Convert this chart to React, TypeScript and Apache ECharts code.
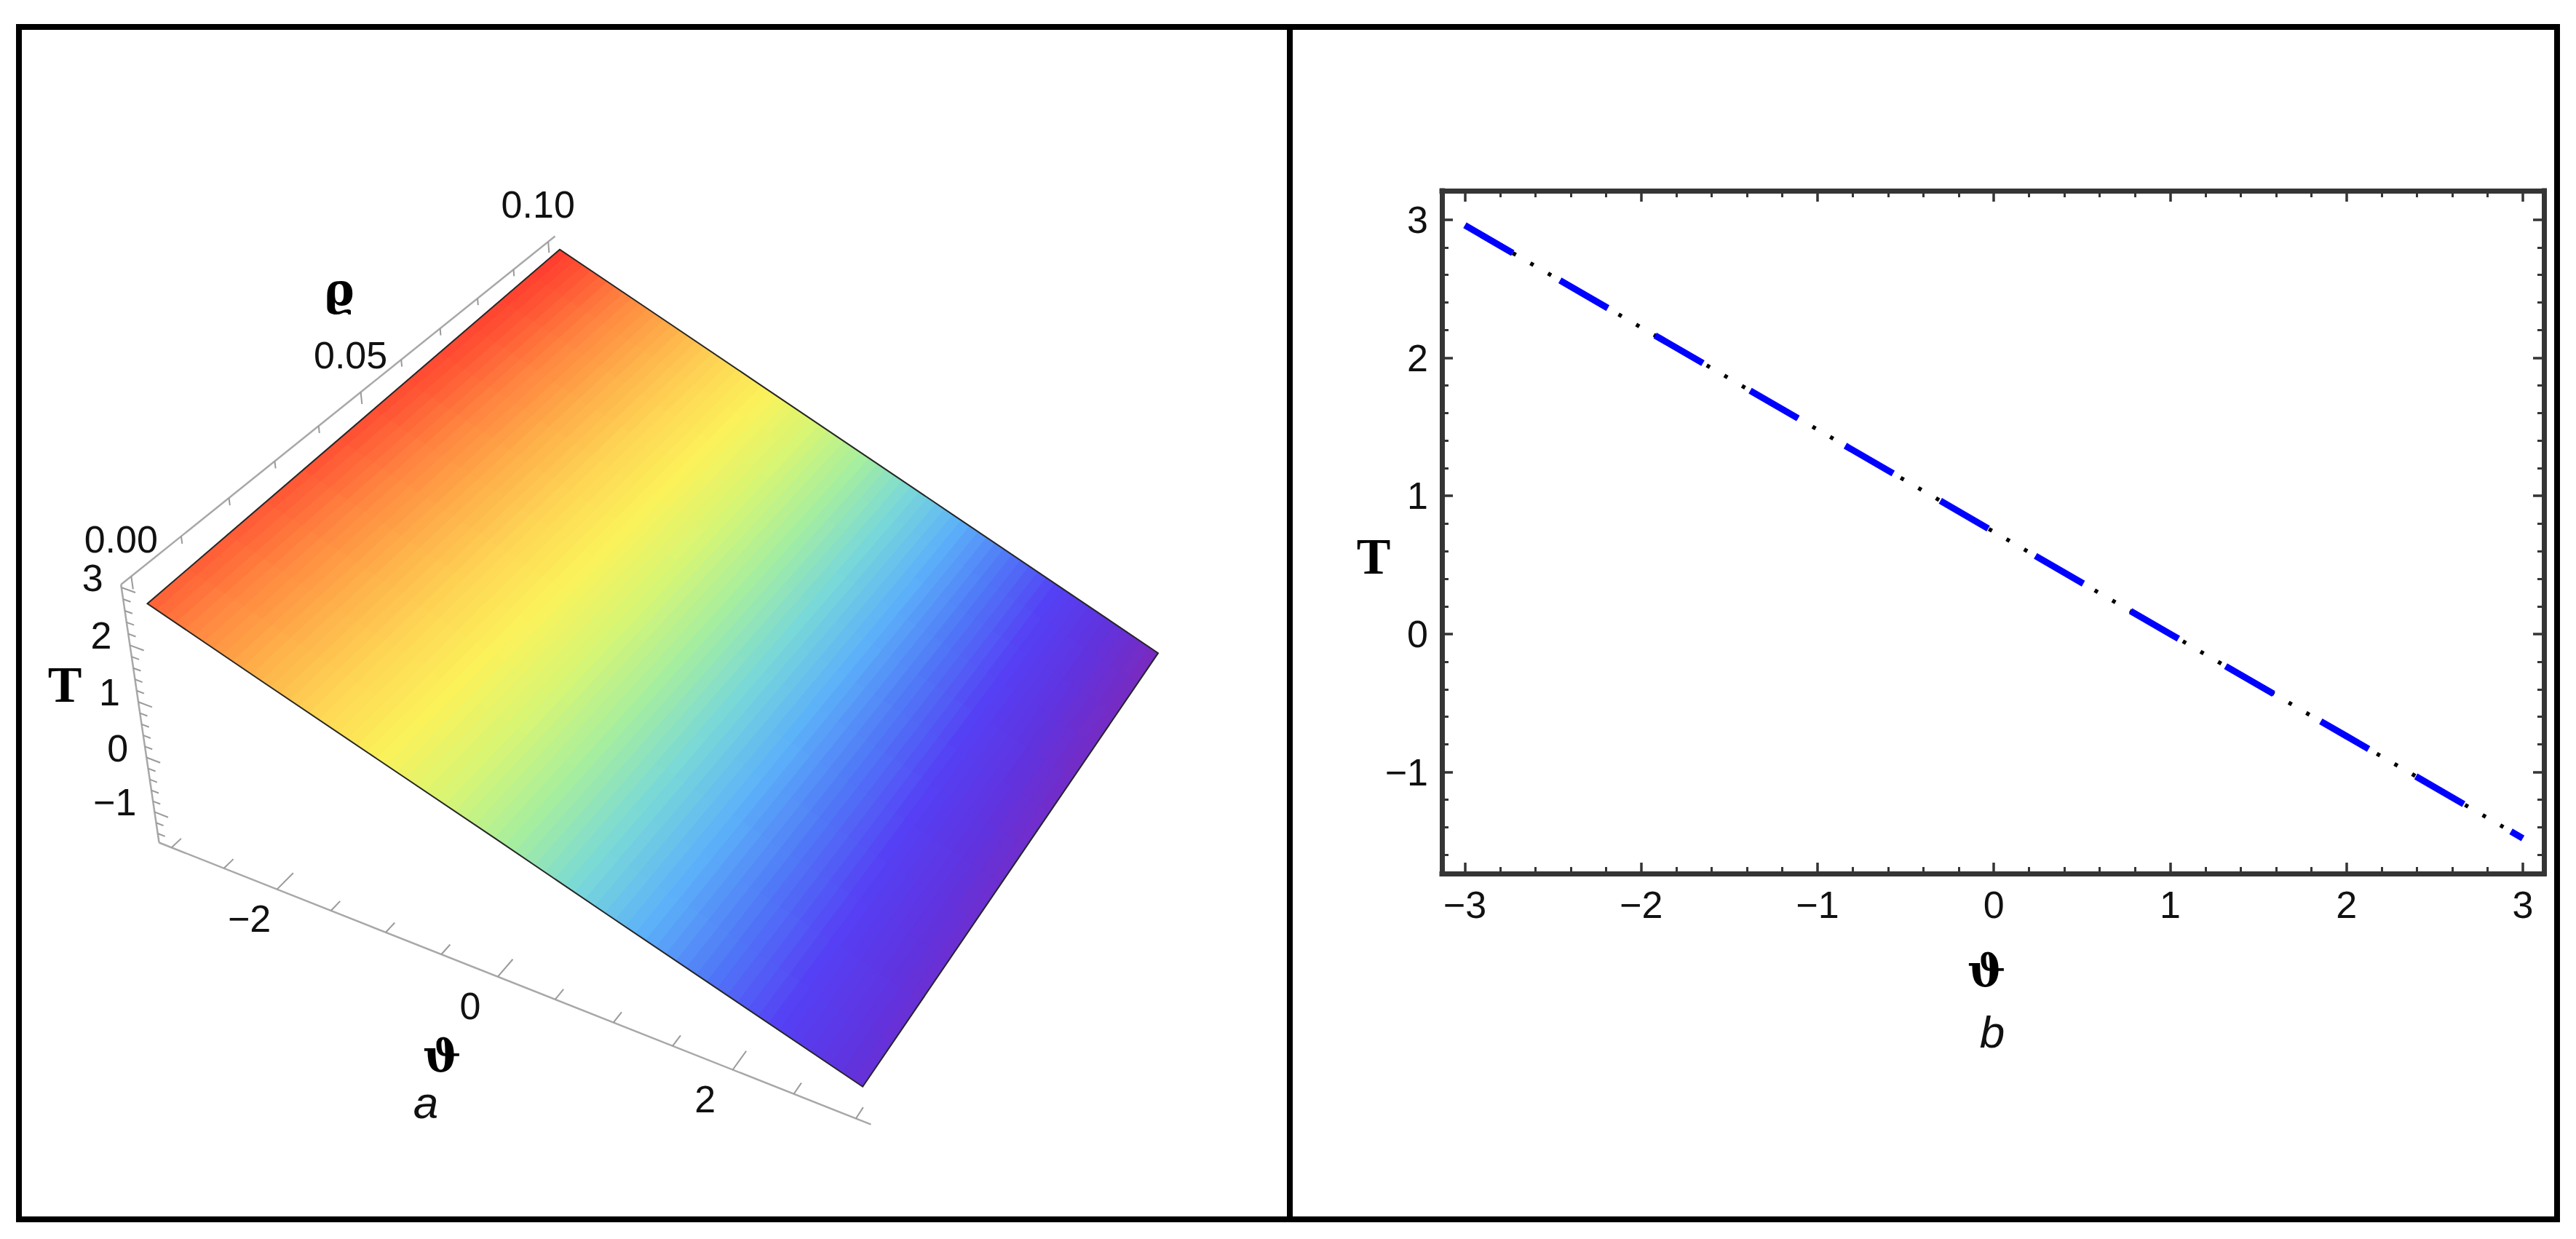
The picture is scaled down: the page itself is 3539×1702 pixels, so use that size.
import React, { useEffect, useRef } from "react";
import * as echarts from "echarts";

const W = 3539;
const H = 1702;

// ---------------- Panel b (2-D line) ----------------
const thetaB = [-3, -2, -1, 0, 1, 2, 3];
const tempB = [2.96, 2.22, 1.48, 0.74, 0.0, -0.74, -1.48];
const xMajorB = [-3, -2, -1, 0, 1, 2, 3];
const yMajorB = [-1, 0, 1, 2, 3];
const XMIN_B = -3.13;
const XMAX_B = 3.12;
const YMIN_B = -1.735;
const YMAX_B = 3.21;

// ---------------- Panel a (3-D surface) ----------------
const thetaA = [-3, -2, -1, 0, 1, 2, 3];
const rhoA = [0, 0.05, 0.1];
const tempA_rho000 = [2.66, 2.01, 1.37, 0.73, 0.08, -0.56, -1.2];
const tempA_rho005 = [2.81, 2.12, 1.43, 0.74, 0.04, -0.65, -1.34];
const tempA_rho010 = [2.96, 2.22, 1.48, 0.74, 0.0, -0.74, -1.48];
const tempGridA = [tempA_rho000, tempA_rho005, tempA_rho010];
const thetaLabelsA = [-2, 0, 2];
const rhoLabelsA = [0, 0.05, 0.1];
const tempLabelsA = [-1, 0, 1, 2, 3];

// 3-D box extents (plot range incl. padding)
const BOX_TH = [-3.12, 3.12];
const BOX_RHO = [-0.002, 0.102];
const BOX_T = [-1.57, 3.05];

// camera calibration: [theta, rho, T, screenX, screenY]
const CAL: number[][] = [
  [BOX_TH[0], BOX_RHO[0], BOX_T[1], 164, 803],
  [BOX_TH[0], BOX_RHO[0], BOX_T[0], 218, 1158],
  [BOX_TH[0], BOX_RHO[1], BOX_T[1], 762, 324],
  [BOX_TH[1], BOX_RHO[0], BOX_T[0], 1194, 1540],
  [BOX_TH[0], 0.05, BOX_T[1], 499, 535],
  [0, BOX_RHO[0], BOX_T[0], 685, 1341],
  [thetaA[0], rhoA[0], tempA_rho000[0], 204, 831],
  [thetaA[0], rhoA[2], tempA_rho010[0], 767, 345],
  [thetaA[6], rhoA[2], tempA_rho010[6], 1592, 897],
  [thetaA[6], rhoA[0], tempA_rho000[6], 1186, 1498],
];

const RAINBOW: [number, string][] = [
  [0.0, "#7a2abf"],
  [0.08, "#6133de"],
  [0.16, "#5540f5"],
  [0.24, "#5077f7"],
  [0.32, "#5cb1f9"],
  [0.4, "#79d8d8"],
  [0.48, "#a6ee9f"],
  [0.56, "#d7f574"],
  [0.64, "#fbf25a"],
  [0.72, "#fed655"],
  [0.8, "#feb04a"],
  [0.88, "#ff8540"],
  [0.95, "#ff5635"],
  [1.0, "#ff3a2e"],
];

const FRAME = "#353535";
const AX3D = "#a8a8a8";
const FONT_SANS = '"Liberation Sans", Arial, Helvetica, sans-serif';
const FONT_NARROW = '"Liberation Sans Narrow", "Arial Narrow", "Liberation Sans", Arial, sans-serif';
const FONT_SERIF = '"Liberation Serif", "Times New Roman", "DejaVu Serif", serif';
const FONT_GREEK = '"DejaVu Serif", "Liberation Serif", serif';

// ---------------- helpers ----------------
const fmtMinus = (v: number) => (v < 0 ? "\u2212" + String(Math.abs(v)) : String(v));

function minorTicks(lo: number, hi: number, step: number, majors: number[]) {
  const out: number[] = [];
  const n0 = Math.ceil(lo / step - 1e-9);
  const n1 = Math.floor(hi / step + 1e-9);
  for (let n = n0; n <= n1; n++) {
    const v = Math.round(n * step * 1e6) / 1e6;
    if (!majors.some((m) => Math.abs(m - v) < 1e-9)) out.push(v);
  }
  return out;
}

function solveLinear(A: number[][], b: number[]): number[] {
  const n = b.length;
  const M = A.map((row, i) => [...row, b[i]]);
  for (let c = 0; c < n; c++) {
    let piv = c;
    for (let r = c + 1; r < n; r++) if (Math.abs(M[r][c]) > Math.abs(M[piv][c])) piv = r;
    const tmp = M[c];
    M[c] = M[piv];
    M[piv] = tmp;
    for (let r = 0; r < n; r++) {
      if (r === c) continue;
      const f = M[r][c] / M[c][c];
      for (let k = c; k <= n; k++) M[r][k] -= f * M[c][k];
    }
  }
  return M.map((row, i) => row[n] / row[i]);
}

const U0 = 880;
const V0 = 930;
const SC = 600;
const norm3 = (th: number, rh: number, T: number) => [th / 3.12, (rh - 0.05) / 0.052, (T - 0.74) / 2.31];

function fitCamera(): number[] {
  const n = 11;
  const M = Array.from({ length: n }, () => new Array(n).fill(0));
  const R = new Array(n).fill(0);
  const add = (row: number[], rhs: number) => {
    for (let i = 0; i < n; i++) {
      for (let j = 0; j < n; j++) M[i][j] += row[i] * row[j];
      R[i] += row[i] * rhs;
    }
  };
  for (const [th, rh, T, u, v] of CAL) {
    const [X, Y, Z] = norm3(th, rh, T);
    const uu = (u - U0) / SC;
    const vv = (v - V0) / SC;
    add([X, Y, Z, 1, 0, 0, 0, 0, -uu * X, -uu * Y, -uu * Z], uu);
    add([0, 0, 0, 0, X, Y, Z, 1, -vv * X, -vv * Y, -vv * Z], vv);
  }
  return solveLinear(M, R);
}

const CAM = fitCamera();

function project(th: number, rh: number, T: number): number[] {
  const [X, Y, Z] = norm3(th, rh, T);
  const p = CAM;
  const w = p[8] * X + p[9] * Y + p[10] * Z + 1;
  const u = (p[0] * X + p[1] * Y + p[2] * Z + p[3]) / w;
  const v = (p[4] * X + p[5] * Y + p[6] * Z + p[7]) / w;
  return [u * SC + U0, v * SC + V0];
}

function hexToRgb(h: string) {
  const n = parseInt(h.slice(1), 16);
  return [(n >> 16) & 255, (n >> 8) & 255, n & 255];
}

const allT = tempGridA.flat();
const TMIN = Math.min(...allT);
const TMAX = Math.max(...allT);

function cmap(T: number): string {
  let t = (T - TMIN) / (TMAX - TMIN);
  t = Math.max(0, Math.min(1, t));
  for (let k = 1; k < RAINBOW.length; k++) {
    const [t1, c1] = RAINBOW[k];
    const [t0, c0] = RAINBOW[k - 1];
    if (t <= t1) {
      const f = (t - t0) / (t1 - t0);
      const a = hexToRgb(c0);
      const b = hexToRgb(c1);
      const c = a.map((x, i) => Math.round(x + (b[i] - x) * f));
      return `rgb(${c[0]},${c[1]},${c[2]})`;
    }
  }
  return RAINBOW[RAINBOW.length - 1][1];
}

function line3(a: number[], b: number[], color: string, width: number) {
  return {
    type: "line",
    silent: true,
    shape: { x1: a[0], y1: a[1], x2: b[0], y2: b[1] },
    style: { stroke: color, lineWidth: width },
  };
}

function text(x: number, y: number, s: string, opts: any) {
  return {
    type: "text",
    x,
    y,
    silent: true,
    style: {
      text: s,
      fill: "#111",
      align: "center",
      verticalAlign: "middle",
      ...opts,
    },
  };
}

function panelAGraphics(): any[] {
  const els: any[] = [];
  const [t0, t1] = BOX_TH;
  const [r0, r1] = BOX_RHO;
  const [z0, z1] = BOX_T;
  // axis lines
  els.push(line3(project(t0, r0, z1), project(t0, r0, z0), AX3D, 2.5));
  els.push(line3(project(t0, r0, z1), project(t0, r1, z1), AX3D, 2.5));
  els.push(line3(project(t0, r0, z0), project(t1, r0, z0), AX3D, 2.5));
  // T ticks
  for (let k = -7; k <= 15; k++) {
    const T = Math.round(k * 0.2 * 1e6) / 1e6;
    if (T < z0 || T > z1) continue;
    const major = k % 5 === 0;
    const len = major ? 0.13 : 0.07;
    els.push(line3(project(t0, r0, T), project(t0 + len, r0, T), "#9a9a9a", 2));
  }
  // rho ticks
  for (let k = 0; k <= 10; k++) {
    const r = k * 0.01;
    const major = k % 5 === 0;
    const len = major ? 0.22 : 0.13;
    els.push(line3(project(t0, r, z1), project(t0, r, z1 - len), "#9a9a9a", 2));
  }
  // theta ticks
  for (let k = -6; k <= 6; k++) {
    const th = k * 0.5;
    const major = k % 4 === 0;
    const len = major ? 0.0035 : 0.002;
    els.push(line3(project(th, r0, z0), project(th, r0 + len, z0), "#9a9a9a", 2));
  }
  const lab = { fontSize: 52, fontFamily: FONT_SANS, lineHeight: 40 };
  // tick labels
  for (const T of tempLabelsA) {
    const p = project(t0, r0, T);
    els.push(text(p[0] - 25, p[1] - 13, fmtMinus(T), { ...lab, align: "right" }));
  }
  for (const r of rhoLabelsA) {
    const p = project(t0, r, z1);
    els.push(text(p[0] - 14, p[1] - 51, r.toFixed(2), lab));
  }
  for (const th of thetaLabelsA) {
    const p = project(th, r0, z0);
    els.push(text(p[0] - 38, p[1] + 40, fmtMinus(th), lab));
  }
  // axis names
  els.push(text(89, 940, "T", { fontSize: 70, fontWeight: "bold", fontFamily: FONT_SERIF, fill: "#000" }));
  els.push(text(466, 397, "\u03F1", { fontSize: 62, fontWeight: "bold", fontFamily: FONT_GREEK, fill: "#000" }));
  els.push(text(607, 1450, "\u03D1", { fontSize: 62, fontWeight: "bold", fontFamily: FONT_GREEK, fill: "#000" }));
  els.push(text(585, 1514, "a", { fontSize: 62, fontStyle: "italic", fontFamily: FONT_SANS, fill: "#111" }));
  return els;
}

function mkAxis(dim: "x" | "y", position: string, opts: { line: boolean; ticks: number[]; len: number; w: number; labels?: boolean }) {
  return {
    type: "value",
    gridIndex: 0,
    position,
    min: dim === "x" ? XMIN_B : YMIN_B,
    max: dim === "x" ? XMAX_B : YMAX_B,
    axisLine: { show: opts.line, onZero: false, lineStyle: { color: FRAME, width: 7, cap: "square" } },
    axisTick: {
      show: true,
      inside: true,
      length: opts.len,
      customValues: opts.ticks,
      lineStyle: { color: FRAME, width: opts.w },
    },
    axisLabel: opts.labels
      ? {
          show: true,
          customValues: opts.ticks,
          formatter: (v: number) => fmtMinus(v),
          margin: dim === "x" ? 17 : 19,
          fontSize: 52,
          fontFamily: FONT_NARROW,
          color: "#111",
        }
      : { show: false },
    splitLine: { show: false },
    minorTick: { show: false },
    minorSplitLine: { show: false },
    z: 5,
  };
}

function buildOption(): any {
  const xMinorB = minorTicks(XMIN_B, XMAX_B, 0.2, xMajorB);
  const yMinorB = minorTicks(YMIN_B, YMAX_B, 0.2, yMajorB);
  const lineData = thetaB.map((t, i) => [t, tempB[i]]);

  const cells: number[][] = [];
  for (let j = 0; j < rhoA.length - 1; j++) for (let i = 0; i < thetaA.length - 1; i++) cells.push([i, j]);

  return {
    animation: false,
    backgroundColor: "#ffffff",
    grid: [{ left: 1981, top: 262, width: 1514, height: 938, containLabel: false }],
    xAxis: [
      mkAxis("x", "bottom", { line: true, ticks: xMajorB, len: 15, w: 3.5, labels: true }),
      mkAxis("x", "bottom", { line: false, ticks: xMinorB, len: 9, w: 3 }),
      mkAxis("x", "top", { line: true, ticks: xMajorB, len: 15, w: 3.5 }),
      mkAxis("x", "top", { line: false, ticks: xMinorB, len: 9, w: 3 }),
    ],
    yAxis: [
      mkAxis("y", "left", { line: true, ticks: yMajorB, len: 15, w: 3.5, labels: true }),
      mkAxis("y", "left", { line: false, ticks: yMinorB, len: 9, w: 3 }),
      mkAxis("y", "right", { line: true, ticks: yMajorB, len: 15, w: 3.5 }),
      mkAxis("y", "right", { line: false, ticks: yMinorB, len: 9, w: 3 }),
    ],
    graphic: [
      {
        type: "rect",
        silent: true,
        shape: { x: 26, y: 37, width: 3487, height: 1638 },
        style: { fill: "none", stroke: "#000", lineWidth: 8 },
        z: 10,
      },
      {
        type: "line",
        silent: true,
        shape: { x1: 1772, y1: 33, x2: 1772, y2: 1679 },
        style: { stroke: "#000", lineWidth: 8 },
        z: 10,
      },
      ...panelAGraphics(),
      text(1887, 764, "T", { fontSize: 70, fontWeight: "bold", fontFamily: FONT_SERIF, fill: "#000" }),
      text(2729, 1333, "\u03D1", { fontSize: 62, fontWeight: "bold", fontFamily: FONT_GREEK, fill: "#000" }),
      text(2737, 1417, "b", { fontSize: 62, fontStyle: "italic", fontFamily: FONT_SANS, fill: "#111" }),
    ],
    series: [
      {
        name: "T dots",
        type: "line",
        xAxisIndex: 0,
        yAxisIndex: 0,
        data: lineData,
        symbol: "none",
        silent: true,
        lineStyle: { color: "#000000", width: 5.5, type: [5, 23], dashOffset: 8, cap: "butt" },
        z: 3,
      },
      {
        name: "T dashes",
        type: "line",
        xAxisIndex: 0,
        yAxisIndex: 0,
        data: lineData,
        symbol: "none",
        silent: true,
        lineStyle: { color: "#0000ff", width: 9, type: [76, 75], cap: "butt" },
        z: 4,
      },
      {
        name: "surface",
        type: "custom",
        coordinateSystem: "none",
        silent: true,
        data: cells,
        renderItem: (_params: any, api: any) => {
          const i = api.value(0) as number;
          const j = api.value(1) as number;
          const th0 = thetaA[i];
          const th1 = thetaA[i + 1];
          const r0 = rhoA[j];
          const r1 = rhoA[j + 1];
          const T00 = tempGridA[j][i];
          const T10 = tempGridA[j][i + 1];
          const T01 = tempGridA[j + 1][i];
          const T11 = tempGridA[j + 1][i + 1];
          const at = (s: number, r: number) => {
            const T = T00 * (1 - s) * (1 - r) + T10 * s * (1 - r) + T01 * (1 - s) * r + T11 * s * r;
            return { p: project(th0 + (th1 - th0) * s, r0 + (r1 - r0) * r, T), T };
          };
          const NS = 12;
          const MS = 6;
          const children: any[] = [];
          for (let a = 0; a < NS; a++) {
            for (let b = 0; b < MS; b++) {
              const q = [at(a / NS, b / MS), at((a + 1) / NS, b / MS), at((a + 1) / NS, (b + 1) / MS), at(a / NS, (b + 1) / MS)];
              const color = cmap((q[0].T + q[1].T + q[2].T + q[3].T) / 4);
              children.push({
                type: "polygon",
                shape: { points: q.map((e) => e.p) },
                style: { fill: color, stroke: color, lineWidth: 1.2 },
              });
            }
          }
          return { type: "group", children };
        },
        z: 2,
      },
      {
        name: "surface edge",
        type: "custom",
        coordinateSystem: "none",
        silent: true,
        data: [[0]],
        renderItem: () => {
          const pts: number[][] = [];
          const last = thetaA.length - 1;
          const top = rhoA.length - 1;
          for (let i = 0; i <= last; i++) pts.push(project(thetaA[i], rhoA[0], tempGridA[0][i]));
          for (let j = 1; j <= top; j++) pts.push(project(thetaA[last], rhoA[j], tempGridA[j][last]));
          for (let i = last - 1; i >= 0; i--) pts.push(project(thetaA[i], rhoA[top], tempGridA[top][i]));
          for (let j = top - 1; j >= 1; j--) pts.push(project(thetaA[0], rhoA[j], tempGridA[j][0]));
          return {
            type: "polygon",
            shape: { points: pts },
            style: { fill: "none", stroke: "#262626", lineWidth: 2 },
          };
        },
        z: 3,
      },
    ],
  };
}

export default function App() {
  const ref = useRef<HTMLDivElement>(null);
  useEffect(() => {
    if (!ref.current) return;
    const chart = echarts.init(ref.current, null, { renderer: "svg", width: W, height: H });
    chart.setOption(buildOption());
    return () => chart.dispose();
  }, []);
  return (
    <div
      ref={ref}
      style={{ position: "fixed", left: 0, top: 0, width: W, height: H, background: "#fff" }}
    />
  );
}
